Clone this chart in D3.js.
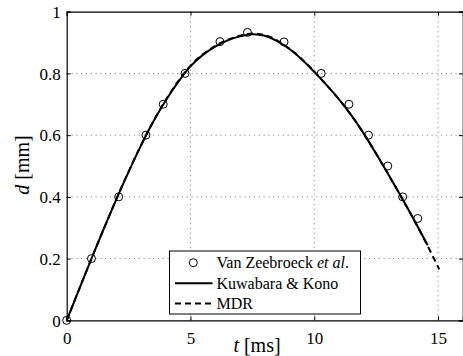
<!DOCTYPE html>
<html>
<head>
<meta charset="utf-8">
<script src="https://cdn.jsdelivr.net/npm/d3@7"></script>
<style>
  html, body { margin: 0; padding: 0; background: #fff; }
  svg { display: block; }
  svg text { font-family: 'Liberation Serif', 'Times New Roman', serif; fill: #000; }
</style>
</head>
<body>
<svg id="chart" width="463" height="356"></svg>
<script>
// Measured indentation depth d [mm] against time t [ms]
const expT = [0, 1.0, 2.1, 3.2, 3.9, 4.78, 6.19, 7.3, 8.78, 10.28, 11.4, 12.19, 12.97, 13.57, 14.18];
const expD = [0, 0.2, 0.4, 0.6, 0.7, 0.80, 0.903, 0.933, 0.902, 0.80, 0.70, 0.60, 0.50, 0.40, 0.33];

// Kuwabara & Kono model curve
const kkT = [0, 0.5, 1, 1.5, 2, 2.5, 3, 3.5, 4, 4.5, 5, 5.5, 6, 6.5, 7, 7.5, 8, 8.5, 9, 9.5, 10, 10.5, 11, 11.5, 12, 12.5, 13, 13.5, 14, 14.58];
const kkD = [0, 0.1, 0.2, 0.297, 0.391, 0.481, 0.566, 0.644, 0.712, 0.772, 0.823, 0.860, 0.887, 0.907, 0.920, 0.927, 0.922, 0.905, 0.879, 0.845, 0.805, 0.762, 0.716, 0.664, 0.605, 0.540, 0.472, 0.402, 0.330, 0.243];

// MDR model curve
const mdrT = [0, 0.5, 1, 1.5, 2, 2.5, 3, 3.5, 4, 4.5, 5, 5.5, 6, 6.5, 7, 7.5, 8, 8.5, 9, 9.5, 10, 10.5, 11, 11.5, 12, 12.5, 13, 13.5, 14, 14.5, 15.05];
const mdrD = [0, 0.1, 0.2, 0.297, 0.392, 0.482, 0.567, 0.645, 0.714, 0.774, 0.825, 0.862, 0.889, 0.909, 0.922, 0.929, 0.924, 0.907, 0.880, 0.846, 0.806, 0.762, 0.716, 0.664, 0.605, 0.540, 0.472, 0.401, 0.329, 0.254, 0.165];

const xTicks = [0, 5, 10, 15];
const yTicks = [0, 0.2, 0.4, 0.6, 0.8, 1];
const yTickLabels = ["0", "0.2", "0.4", "0.6", "0.8", "1"];

const legendLabels = ["Van Zeebroeck ", "Kuwabara & Kono", "MDR"];

const FONT = "'Liberation Serif', 'Times New Roman', serif";
const svg = d3.select("#chart");
const L = 66.7, R = 462.8, T = 11.7, B = 320.3;

const x = d3.scaleLinear().domain([0, 16]).range([L, R]);
const y = d3.scaleLinear().domain([0, 1]).range([B, T]);

// dotted grid
const grid = svg.append("g").attr("stroke", "#888").attr("stroke-width", 1)
  .attr("stroke-dasharray", "1.2,3.6");
xTicks.filter(v => v > 0).forEach(v => {
  grid.append("line").attr("x1", x(v)).attr("x2", x(v)).attr("y1", B).attr("y2", T);
});
yTicks.filter(v => v > 0 && v < 1).forEach(v => {
  grid.append("line").attr("x1", L).attr("x2", R).attr("y1", y(v)).attr("y2", y(v));
});

// axes with inward ticks on all four sides
const xAxis = d3.axisBottom(x).tickValues(xTicks).tickSize(-4).tickPadding(8).tickFormat(d3.format("d"));
const yAxis = d3.axisLeft(y).tickValues(yTicks).tickSize(-4).tickPadding(6)
  .tickFormat((d, i) => yTickLabels[i]);
const gx = svg.append("g").attr("transform", `translate(0,${B})`).call(xAxis);
const gy = svg.append("g").attr("transform", `translate(${L},0)`).call(yAxis);
const gxt = svg.append("g").attr("transform", `translate(0,${T})`).call(d3.axisTop(x).tickValues(xTicks).tickSize(-4).tickFormat(""));
const gyr = svg.append("g").attr("transform", `translate(${R},0)`).call(d3.axisRight(y).tickValues(yTicks).tickSize(-4).tickFormat(""));
[gx, gy, gxt, gyr].forEach(g => {
  g.attr("font-family", FONT).attr("font-size", 17);
  g.select(".domain").attr("stroke", "#000").attr("stroke-width", 1.2);
  g.selectAll(".tick line").attr("stroke", "#000");
  g.selectAll(".tick text").attr("fill", "#000");
});
gx.selectAll(".tick text").attr("dy", "0.95em");
gy.selectAll(".tick text").attr("dy", "0.34em");

// curves
const lineOf = (ts, ds) => d3.line().x((d, i) => x(ts[i])).y((d, i) => y(ds[i])).curve(d3.curveCatmullRom)(ts);
svg.append("path").attr("d", lineOf(kkT, kkD)).attr("fill", "none").attr("stroke", "#000").attr("stroke-width", 2);
svg.append("path").attr("d", lineOf(mdrT, mdrD)).attr("fill", "none").attr("stroke", "#000").attr("stroke-width", 2)
  .attr("stroke-dasharray", "6,4");

// experimental points
svg.append("g").selectAll("circle").data(expT).join("circle")
  .attr("cx", d => x(d)).attr("cy", (d, i) => y(expD[i])).attr("r", 4)
  .attr("fill", "none").attr("stroke", "#000").attr("stroke-width", 1);

// axis labels
svg.append("text").attr("x", 257).attr("y", 352).attr("text-anchor", "middle")
  .attr("font-family", FONT).attr("font-size", 20)
  .html('<tspan font-style="italic">t</tspan> [ms]');
svg.append("text").attr("transform", "translate(29,165) rotate(-90)").attr("text-anchor", "middle")
  .attr("font-family", FONT).attr("font-size", 20)
  .html('<tspan font-style="italic">d</tspan> [mm]');

// legend
const lg = svg.append("g");
lg.append("rect").attr("x", 169.5).attr("y", 251).attr("width", 191).attr("height", 63)
  .attr("fill", "#fff").attr("stroke", "#000").attr("stroke-width", 1);
const rowsY = [262.7, 283.2, 303.5];
lg.append("circle").attr("cx", 193.3).attr("cy", rowsY[0]).attr("r", 4).attr("fill", "none").attr("stroke", "#000");
lg.append("line").attr("x1", 175).attr("x2", 212.5).attr("y1", rowsY[1]).attr("y2", rowsY[1]).attr("stroke", "#000").attr("stroke-width", 2);
lg.append("line").attr("x1", 175).attr("x2", 212.5).attr("y1", rowsY[2]).attr("y2", rowsY[2]).attr("stroke", "#000").attr("stroke-width", 2).attr("stroke-dasharray", "6,4");
legendLabels.forEach((t, i) => {
  const tx = lg.append("text").attr("x", 216.5).attr("y", rowsY[i]).attr("dy", "0.35em")
    .attr("font-family", FONT).attr("font-size", 16).text(t);
  if (i === 0) {
    tx.append("tspan").attr("font-style", "italic").text("et al");
    tx.append("tspan").text(".");
  }
});
</script>
</body>
</html>
